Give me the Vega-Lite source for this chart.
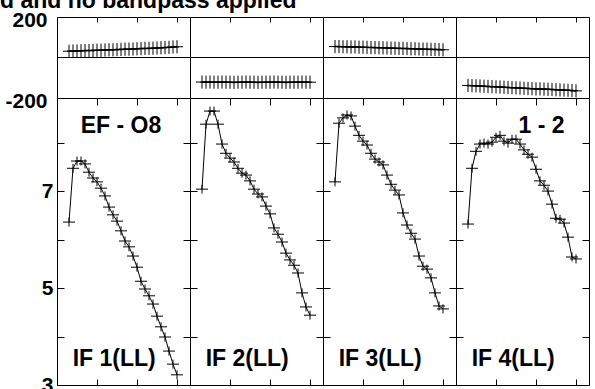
{
  "$schema": "https://vega.github.io/schema/vega-lite/v6.json",
  "autosize": "pad",
  "padding": {"left": 0, "top": -11, "right": 0, "bottom": 0},
  "background": "white",
  "title": {"text": "d and no bandpass applied", "anchor": "start", "frame": "group", "font": "Liberation Sans", "fontWeight": "bold", "fontSize": 23, "color": "#000", "baseline": "alphabetic", "offset": 9, "dx": -57, "dy": 31},
  "config": {
    "view": {"stroke": "#000", "strokeWidth": 1},
    "concat": {"spacing": 0},
    "axis": {"domain": false, "grid": false, "tickColor": "#000", "tickWidth": 1, "labelFont": "Liberation Sans", "labelFontWeight": "bold", "labelFontSize": 21, "labelColor": "#000", "labelOverlap": false, "title": null}
  },
  "data": {"values": [
    {"p":1,"ch":3,"amp":6.36,"ph":31},{"p":1,"ch":4,"amp":7.47,"ph":32},{"p":1,"ch":5,"amp":7.62,"ph":32},{"p":1,"ch":6,"amp":7.62,"ph":33},{"p":1,"ch":7,"amp":7.56,"ph":34},{"p":1,"ch":8,"amp":7.39,"ph":34},{"p":1,"ch":9,"amp":7.27,"ph":35},{"p":1,"ch":10,"amp":7.19,"ph":36},{"p":1,"ch":11,"amp":7.06,"ph":36},{"p":1,"ch":12,"amp":6.90,"ph":37},{"p":1,"ch":13,"amp":6.67,"ph":38},{"p":1,"ch":14,"amp":6.51,"ph":38},{"p":1,"ch":15,"amp":6.38,"ph":39},{"p":1,"ch":16,"amp":6.18,"ph":40},{"p":1,"ch":17,"amp":5.97,"ph":41},{"p":1,"ch":18,"amp":5.85,"ph":41},{"p":1,"ch":19,"amp":5.66,"ph":42},{"p":1,"ch":20,"amp":5.43,"ph":43},{"p":1,"ch":21,"amp":5.14,"ph":44},{"p":1,"ch":22,"amp":4.98,"ph":45},{"p":1,"ch":23,"amp":4.84,"ph":45},{"p":1,"ch":24,"amp":4.67,"ph":46},{"p":1,"ch":25,"amp":4.42,"ph":47},{"p":1,"ch":26,"amp":4.20,"ph":48},{"p":1,"ch":27,"amp":3.99,"ph":49},{"p":1,"ch":28,"amp":3.70,"ph":50},{"p":1,"ch":29,"amp":3.43,"ph":52},{"p":1,"ch":30,"amp":3.21,"ph":53},
    {"p":2,"ch":3,"amp":7.04,"ph":-121},{"p":2,"ch":4,"amp":8.38,"ph":-122},{"p":2,"ch":5,"amp":8.65,"ph":-121},{"p":2,"ch":6,"amp":8.65,"ph":-122},{"p":2,"ch":7,"amp":8.38,"ph":-122},{"p":2,"ch":8,"amp":7.97,"ph":-121},{"p":2,"ch":9,"amp":7.78,"ph":-122},{"p":2,"ch":10,"amp":7.68,"ph":-122},{"p":2,"ch":11,"amp":7.60,"ph":-123},{"p":2,"ch":12,"amp":7.47,"ph":-122},{"p":2,"ch":13,"amp":7.37,"ph":-122},{"p":2,"ch":14,"amp":7.33,"ph":-121},{"p":2,"ch":15,"amp":7.21,"ph":-122},{"p":2,"ch":16,"amp":7.04,"ph":-122},{"p":2,"ch":17,"amp":6.94,"ph":-123},{"p":2,"ch":18,"amp":6.88,"ph":-122},{"p":2,"ch":19,"amp":6.69,"ph":-122},{"p":2,"ch":20,"amp":6.53,"ph":-122},{"p":2,"ch":21,"amp":6.24,"ph":-121},{"p":2,"ch":22,"amp":6.11,"ph":-122},{"p":2,"ch":23,"amp":5.95,"ph":-122},{"p":2,"ch":24,"amp":5.72,"ph":-123},{"p":2,"ch":25,"amp":5.58,"ph":-122},{"p":2,"ch":26,"amp":5.47,"ph":-122},{"p":2,"ch":27,"amp":5.31,"ph":-122},{"p":2,"ch":28,"amp":4.90,"ph":-121},{"p":2,"ch":29,"amp":4.61,"ph":-122},{"p":2,"ch":30,"amp":4.44,"ph":-122},
    {"p":3,"ch":3,"amp":7.19,"ph":54},{"p":3,"ch":4,"amp":8.40,"ph":54},{"p":3,"ch":5,"amp":8.51,"ph":53},{"p":3,"ch":6,"amp":8.57,"ph":53},{"p":3,"ch":7,"amp":8.55,"ph":52},{"p":3,"ch":8,"amp":8.34,"ph":52},{"p":3,"ch":9,"amp":8.15,"ph":51},{"p":3,"ch":10,"amp":8.03,"ph":51},{"p":3,"ch":11,"amp":7.95,"ph":50},{"p":3,"ch":12,"amp":7.78,"ph":49},{"p":3,"ch":13,"amp":7.66,"ph":49},{"p":3,"ch":14,"amp":7.60,"ph":48},{"p":3,"ch":15,"amp":7.54,"ph":48},{"p":3,"ch":16,"amp":7.33,"ph":47},{"p":3,"ch":17,"amp":7.14,"ph":46},{"p":3,"ch":18,"amp":7.02,"ph":46},{"p":3,"ch":19,"amp":6.92,"ph":45},{"p":3,"ch":20,"amp":6.55,"ph":45},{"p":3,"ch":21,"amp":6.30,"ph":44},{"p":3,"ch":22,"amp":6.13,"ph":43},{"p":3,"ch":23,"amp":6.01,"ph":43},{"p":3,"ch":24,"amp":5.66,"ph":42},{"p":3,"ch":25,"amp":5.45,"ph":41},{"p":3,"ch":26,"amp":5.39,"ph":41},{"p":3,"ch":27,"amp":5.21,"ph":40},{"p":3,"ch":28,"amp":4.90,"ph":40},{"p":3,"ch":29,"amp":4.63,"ph":39},{"p":3,"ch":30,"amp":4.57,"ph":38},
    {"p":4,"ch":3,"amp":6.32,"ph":-138},{"p":4,"ch":4,"amp":7.47,"ph":-139},{"p":4,"ch":5,"amp":7.82,"ph":-140},{"p":4,"ch":6,"amp":7.97,"ph":-141},{"p":4,"ch":7,"amp":7.99,"ph":-142},{"p":4,"ch":8,"amp":7.97,"ph":-143},{"p":4,"ch":9,"amp":8.01,"ph":-144},{"p":4,"ch":10,"amp":8.11,"ph":-145},{"p":4,"ch":11,"amp":8.15,"ph":-146},{"p":4,"ch":12,"amp":8.03,"ph":-147},{"p":4,"ch":13,"amp":7.99,"ph":-148},{"p":4,"ch":14,"amp":8.07,"ph":-149},{"p":4,"ch":15,"amp":8.07,"ph":-150},{"p":4,"ch":16,"amp":7.97,"ph":-151},{"p":4,"ch":17,"amp":7.85,"ph":-152},{"p":4,"ch":18,"amp":7.76,"ph":-153},{"p":4,"ch":19,"amp":7.70,"ph":-154},{"p":4,"ch":20,"amp":7.45,"ph":-155},{"p":4,"ch":21,"amp":7.21,"ph":-155},{"p":4,"ch":22,"amp":7.12,"ph":-156},{"p":4,"ch":23,"amp":7.00,"ph":-157},{"p":4,"ch":24,"amp":6.73,"ph":-158},{"p":4,"ch":25,"amp":6.44,"ph":-159},{"p":4,"ch":26,"amp":6.42,"ph":-160},{"p":4,"ch":27,"amp":6.34,"ph":-161},{"p":4,"ch":28,"amp":6.05,"ph":-162},{"p":4,"ch":29,"amp":5.64,"ph":-163},{"p":4,"ch":30,"amp":5.60,"ph":-165}
  ]},
  "columns": 4,
  "bounds": "flush",
  "spacing": 0,
  "concat": [
    {"width": 133, "height": 81, "transform": [{"filter": "datum.p == 1"}],
     "layer": [
      {"data": {"values": [{"v": 0}]}, "mark": {"type": "rule", "color": "#000", "strokeWidth": 1}, "encoding": {"y": {"field": "v", "type": "quantitative", "axis": null}}},
      {"mark": {"type": "line", "color": "#000", "strokeWidth": 1.5}, "encoding": {"x": {"field": "ch", "type": "quantitative", "scale": {"domain": [0, 33.25], "nice": false, "zero": false}, "axis": null}, "y": {"field": "ph", "type": "quantitative", "scale": {"domain": [-200, 200], "nice": false}, "axis": {"orient": "left", "values": [-200, 200], "ticks": false, "labelPadding": 10, "labelOffset": 3, "labelExpr": "datum.value < 0 ? '-' + abs(datum.value) : datum.label"}}}},
      {"mark": {"type": "point", "shape": "M-1,0H1M0,-1.1V1.1", "size": 144, "stroke": "#000", "strokeWidth": 1, "filled": false, "opacity": 1}, "encoding": {"x": {"field": "ch", "type": "quantitative", "axis": {"orient": "top", "values": [10, 20, 30], "labels": false, "tickSize": -5}}, "y": {"field": "ph", "type": "quantitative", "axis": null}}}
     ],
     "resolve": {"axis": {"x": "independent", "y": "independent"}}},
    {"width": 133, "height": 81, "transform": [{"filter": "datum.p == 2"}],
     "layer": [
      {"data": {"values": [{"v": 0}]}, "mark": {"type": "rule", "color": "#000", "strokeWidth": 1}, "encoding": {"y": {"field": "v", "type": "quantitative", "axis": null}}},
      {"mark": {"type": "line", "color": "#000", "strokeWidth": 1.5}, "encoding": {"x": {"field": "ch", "type": "quantitative", "scale": {"domain": [0, 33.25], "nice": false, "zero": false}, "axis": null}, "y": {"field": "ph", "type": "quantitative", "scale": {"domain": [-200, 200], "nice": false}, "axis": null}}},
      {"mark": {"type": "point", "shape": "M-1,0H1M0,-1.1V1.1", "size": 144, "stroke": "#000", "strokeWidth": 1, "filled": false, "opacity": 1}, "encoding": {"x": {"field": "ch", "type": "quantitative", "axis": {"orient": "top", "values": [10, 20, 30], "labels": false, "tickSize": -5}}, "y": {"field": "ph", "type": "quantitative", "axis": null}}}
     ],
     "resolve": {"axis": {"x": "independent", "y": "independent"}}},
    {"width": 133, "height": 81, "transform": [{"filter": "datum.p == 3"}],
     "layer": [
      {"data": {"values": [{"v": 0}]}, "mark": {"type": "rule", "color": "#000", "strokeWidth": 1}, "encoding": {"y": {"field": "v", "type": "quantitative", "axis": null}}},
      {"mark": {"type": "line", "color": "#000", "strokeWidth": 1.5}, "encoding": {"x": {"field": "ch", "type": "quantitative", "scale": {"domain": [0, 33.25], "nice": false, "zero": false}, "axis": null}, "y": {"field": "ph", "type": "quantitative", "scale": {"domain": [-200, 200], "nice": false}, "axis": null}}},
      {"mark": {"type": "point", "shape": "M-1,0H1M0,-1.1V1.1", "size": 144, "stroke": "#000", "strokeWidth": 1, "filled": false, "opacity": 1}, "encoding": {"x": {"field": "ch", "type": "quantitative", "axis": {"orient": "top", "values": [10, 20, 30], "labels": false, "tickSize": -5}}, "y": {"field": "ph", "type": "quantitative", "axis": null}}}
     ],
     "resolve": {"axis": {"x": "independent", "y": "independent"}}},
    {"width": 133, "height": 81, "transform": [{"filter": "datum.p == 4"}],
     "layer": [
      {"data": {"values": [{"v": 0}]}, "mark": {"type": "rule", "color": "#000", "strokeWidth": 1}, "encoding": {"y": {"field": "v", "type": "quantitative", "axis": null}}},
      {"mark": {"type": "line", "color": "#000", "strokeWidth": 1.5}, "encoding": {"x": {"field": "ch", "type": "quantitative", "scale": {"domain": [0, 33.25], "nice": false, "zero": false}, "axis": null}, "y": {"field": "ph", "type": "quantitative", "scale": {"domain": [-200, 200], "nice": false}, "axis": null}}},
      {"mark": {"type": "point", "shape": "M-1,0H1M0,-1.1V1.1", "size": 144, "stroke": "#000", "strokeWidth": 1, "filled": false, "opacity": 1}, "encoding": {"x": {"field": "ch", "type": "quantitative", "axis": {"orient": "top", "values": [10, 20, 30], "labels": false, "tickSize": -5}}, "y": {"field": "ph", "type": "quantitative", "axis": null}}}
     ],
     "resolve": {"axis": {"x": "independent", "y": "independent"}}},
    {"width": 133, "height": 287, "transform": [{"filter": "datum.p == 1"}],
     "layer": [
      {"mark": {"type": "line", "color": "#000", "strokeWidth": 1}, "encoding": {"x": {"field": "ch", "type": "quantitative", "scale": {"domain": [0, 33.25], "nice": false, "zero": false}, "axis": {"orient": "bottom", "values": [10, 20, 30], "labels": false, "tickSize": -6}}, "y": {"field": "amp", "type": "quantitative", "scale": {"domain": [3, 8.92], "nice": false, "zero": false}, "axis": {"orient": "left", "values": [3, 4, 5, 6, 7, 8], "tickSize": -7, "labelPadding": 11, "labelExpr": "datum.value % 2 == 1 ? datum.label : ''"}}}},
      {"mark": {"type": "point", "shape": "M-1,0H1M0,-0.75V0.75", "size": 144, "stroke": "#000", "strokeWidth": 1, "filled": false, "opacity": 1}, "encoding": {"x": {"field": "ch", "type": "quantitative", "axis": {"orient": "top", "values": [10, 20, 30], "labels": false, "tickSize": -7}}, "y": {"field": "amp", "type": "quantitative", "axis": {"orient": "right", "values": [3, 4, 5, 6, 7, 8], "labels": false, "tickSize": -7}}}},
      {"data": {"values": [{"t": "EF - O8"}]}, "mark": {"type": "text", "font": "Liberation Sans", "fontWeight": "bold", "fontSize": 23, "color": "#000", "align": "center", "baseline": "alphabetic"}, "encoding": {"x": {"datum": 16, "type": "quantitative", "axis": null}, "y": {"datum": 8.2, "type": "quantitative", "axis": null}, "text": {"field": "t"}}},
      {"data": {"values": [{"t": "IF 1(LL)"}]}, "mark": {"type": "text", "font": "Liberation Sans", "fontWeight": "bold", "fontSize": 23, "color": "#000", "align": "center", "baseline": "alphabetic"}, "encoding": {"x": {"datum": 14.3, "type": "quantitative", "axis": null}, "y": {"datum": 3.39, "type": "quantitative", "axis": null}, "text": {"field": "t"}}}
     ],
     "resolve": {"axis": {"x": "independent", "y": "independent"}}},
    {"width": 133, "height": 287, "transform": [{"filter": "datum.p == 2"}],
     "layer": [
      {"mark": {"type": "line", "color": "#000", "strokeWidth": 1}, "encoding": {"x": {"field": "ch", "type": "quantitative", "scale": {"domain": [0, 33.25], "nice": false, "zero": false}, "axis": {"orient": "bottom", "values": [10, 20, 30], "labels": false, "tickSize": -6}}, "y": {"field": "amp", "type": "quantitative", "scale": {"domain": [3, 8.92], "nice": false, "zero": false}, "axis": {"orient": "left", "values": [3, 4, 5, 6, 7, 8], "tickSize": -7, "labels": false}}}},
      {"mark": {"type": "point", "shape": "M-1,0H1M0,-0.75V0.75", "size": 144, "stroke": "#000", "strokeWidth": 1, "filled": false, "opacity": 1}, "encoding": {"x": {"field": "ch", "type": "quantitative", "axis": {"orient": "top", "values": [10, 20, 30], "labels": false, "tickSize": -7}}, "y": {"field": "amp", "type": "quantitative", "axis": {"orient": "right", "values": [3, 4, 5, 6, 7, 8], "labels": false, "tickSize": -7}}}},
      {"data": {"values": [{"t": "IF 2(LL)"}]}, "mark": {"type": "text", "font": "Liberation Sans", "fontWeight": "bold", "fontSize": 23, "color": "#000", "align": "center", "baseline": "alphabetic"}, "encoding": {"x": {"datum": 14.3, "type": "quantitative", "axis": null}, "y": {"datum": 3.39, "type": "quantitative", "axis": null}, "text": {"field": "t"}}}
     ],
     "resolve": {"axis": {"x": "independent", "y": "independent"}}},
    {"width": 133, "height": 287, "transform": [{"filter": "datum.p == 3"}],
     "layer": [
      {"mark": {"type": "line", "color": "#000", "strokeWidth": 1}, "encoding": {"x": {"field": "ch", "type": "quantitative", "scale": {"domain": [0, 33.25], "nice": false, "zero": false}, "axis": {"orient": "bottom", "values": [10, 20, 30], "labels": false, "tickSize": -6}}, "y": {"field": "amp", "type": "quantitative", "scale": {"domain": [3, 8.92], "nice": false, "zero": false}, "axis": {"orient": "left", "values": [3, 4, 5, 6, 7, 8], "tickSize": -7, "labels": false}}}},
      {"mark": {"type": "point", "shape": "M-1,0H1M0,-0.75V0.75", "size": 144, "stroke": "#000", "strokeWidth": 1, "filled": false, "opacity": 1}, "encoding": {"x": {"field": "ch", "type": "quantitative", "axis": {"orient": "top", "values": [10, 20, 30], "labels": false, "tickSize": -7}}, "y": {"field": "amp", "type": "quantitative", "axis": {"orient": "right", "values": [3, 4, 5, 6, 7, 8], "labels": false, "tickSize": -7}}}},
      {"data": {"values": [{"t": "IF 3(LL)"}]}, "mark": {"type": "text", "font": "Liberation Sans", "fontWeight": "bold", "fontSize": 23, "color": "#000", "align": "center", "baseline": "alphabetic"}, "encoding": {"x": {"datum": 14.3, "type": "quantitative", "axis": null}, "y": {"datum": 3.39, "type": "quantitative", "axis": null}, "text": {"field": "t"}}}
     ],
     "resolve": {"axis": {"x": "independent", "y": "independent"}}},
    {"width": 133, "height": 287, "transform": [{"filter": "datum.p == 4"}],
     "layer": [
      {"mark": {"type": "line", "color": "#000", "strokeWidth": 1}, "encoding": {"x": {"field": "ch", "type": "quantitative", "scale": {"domain": [0, 33.25], "nice": false, "zero": false}, "axis": {"orient": "bottom", "values": [10, 20, 30], "labels": false, "tickSize": -6}}, "y": {"field": "amp", "type": "quantitative", "scale": {"domain": [3, 8.92], "nice": false, "zero": false}, "axis": {"orient": "left", "values": [3, 4, 5, 6, 7, 8], "tickSize": -7, "labels": false}}}},
      {"mark": {"type": "point", "shape": "M-1,0H1M0,-0.75V0.75", "size": 144, "stroke": "#000", "strokeWidth": 1, "filled": false, "opacity": 1}, "encoding": {"x": {"field": "ch", "type": "quantitative", "axis": {"orient": "top", "values": [10, 20, 30], "labels": false, "tickSize": -7}}, "y": {"field": "amp", "type": "quantitative", "axis": {"orient": "right", "values": [3, 4, 5, 6, 7, 8], "labels": false, "tickSize": -7}}}},
      {"data": {"values": [{"t": "1 - 2"}]}, "mark": {"type": "text", "font": "Liberation Sans", "fontWeight": "bold", "fontSize": 23, "color": "#000", "align": "center", "baseline": "alphabetic"}, "encoding": {"x": {"datum": 21.4, "type": "quantitative", "axis": null}, "y": {"datum": 8.2, "type": "quantitative", "axis": null}, "text": {"field": "t"}}},
      {"data": {"values": [{"t": "IF 4(LL)"}]}, "mark": {"type": "text", "font": "Liberation Sans", "fontWeight": "bold", "fontSize": 23, "color": "#000", "align": "center", "baseline": "alphabetic"}, "encoding": {"x": {"datum": 14.3, "type": "quantitative", "axis": null}, "y": {"datum": 3.39, "type": "quantitative", "axis": null}, "text": {"field": "t"}}}
     ],
     "resolve": {"axis": {"x": "independent", "y": "independent"}}}
  ]
}
